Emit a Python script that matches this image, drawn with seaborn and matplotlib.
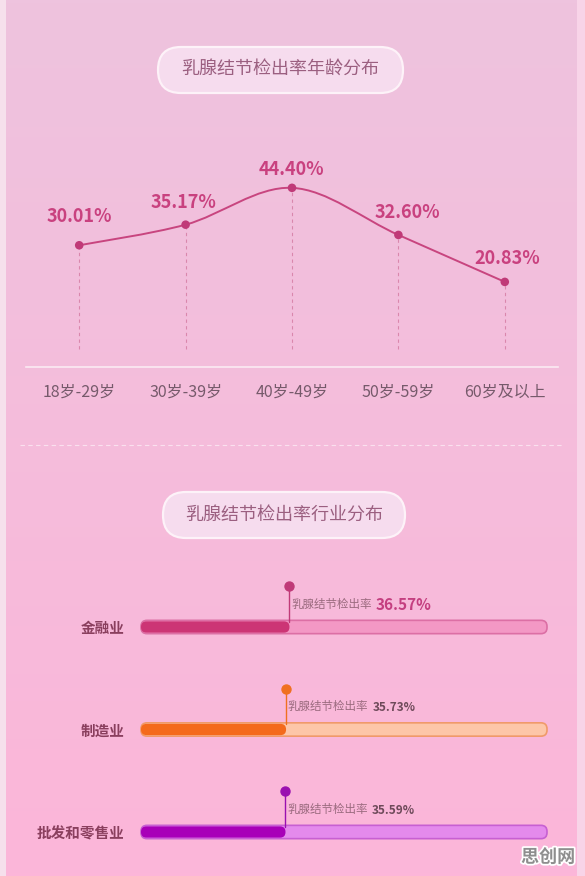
import numpy as np
import pandas as pd
import matplotlib
matplotlib.use("Agg")
import matplotlib.pyplot as plt
import matplotlib.colors as mcolors
import matplotlib.patheffects as pe
from matplotlib.patches import FancyBboxPatch, PathPatch, Rectangle
from matplotlib.path import Path
import seaborn as sns

# ---------------- data ----------------
age_groups = ["18岁-29岁", "30岁-39岁", "40岁-49岁", "50岁-59岁", "60岁及以上"]
age_rates = [30.01, 35.17, 44.40, 32.60, 20.83]
industries = ["金融业", "制造业", "批发和零售业"]
industry_rates = [36.57, 35.73, 35.59]
title_age = "乳腺结节检出率年龄分布"
title_ind = "乳腺结节检出率行业分布"
pin_prefix = "乳腺结节检出率"
watermark = "思创网"

# ---------------- style ----------------
sns.set_theme(style="white")
plt.rcParams['font.family'] = ['Noto Sans CJK SC', 'DejaVu Sans']

W, H = 585, 876
fig = plt.figure(figsize=(W / 100, H / 100), dpi=100)

# background axes in pixel units
bg = fig.add_axes([0, 0, 1, 1])
bg.set_xlim(0, W)
bg.set_ylim(H, 0)
bg.axis('off')
c_top = np.array(mcolors.to_rgb('#eec3de'))
c_bot = np.array(mcolors.to_rgb('#fcb6d9'))
t = np.linspace(0, 1, 256)[:, None, None]
img = c_top + (c_bot - c_top) * t
bg.imshow(img, extent=[0, W, H, 0], aspect='auto', zorder=0)
bg.add_patch(Rectangle((0, 0), 6, H, color='#f6e0ec', zorder=1, lw=0))
bg.add_patch(Rectangle((577, 0), 8, H, color='#f8d4e8', zorder=1, lw=0))

# title pills
for (x0, y0, w, h, txt) in [(158, 47, 245, 46, title_age), (163, 492, 242, 46, title_ind)]:
    bg.add_patch(FancyBboxPatch((x0, y0), w, h, boxstyle="round,pad=0,rounding_size=23",
                                fc='#f6dcee', ec='#fdf2f8', lw=1.6, zorder=2))
    bg.text(x0 + w / 2, y0 + h / 2, txt, ha='center', va='center', fontsize=13,
            color='#9b5f80', zorder=3)

# separator
bg.plot([20, 562], [445, 445], color='white', alpha=0.55, lw=0.8, ls=(0, (4, 3)), zorder=2)

# watermark
bg.text(548, 857, watermark, ha='center', va='center', fontsize=13, fontweight='bold',
        color='#8e8e8e', zorder=5,
        path_effects=[pe.withStroke(linewidth=2.5, foreground='white')])

# ---------------- age line chart ----------------
line_col = '#c8457f'
ax1 = fig.add_axes([26 / W, 1 - 367 / H, 532 / W, 201.5 / H])
ax1.set_facecolor('none')
df_age = pd.DataFrame({'group': age_groups, 'rate': age_rates})

xs = np.arange(len(age_rates), dtype=float)
ys = np.array(age_rates, dtype=float)
n = len(xs)
verts = [(xs[0], ys[0])]
codes = [Path.MOVETO]
for i in range(n - 1):
    p0 = i - 1 if i > 0 else i
    p3 = i + 2 if i + 2 < n else i + 1
    c1 = (xs[i] + (xs[i + 1] - xs[p0]) / 6, ys[i] + (ys[i + 1] - ys[p0]) / 6)
    c2 = (xs[i + 1] - (xs[p3] - xs[i]) / 6, ys[i + 1] - (ys[p3] - ys[i]) / 6)
    verts += [c1, c2, (xs[i + 1], ys[i + 1])]
    codes += [Path.CURVE4] * 3
ax1.add_patch(PathPatch(Path(verts, codes), fc='none', ec=line_col, lw=1.4, zorder=3))

ax1.vlines(xs, 4, ys, colors='#d47aa2', lw=0.8, linestyles=(0, (3, 3)), alpha=0.8, zorder=2)

sns.scatterplot(data=df_age, x='group', y='rate', ax=ax1, color='#c03a78', s=38,
                edgecolor='none', zorder=4, legend=False)

label_offsets = [(0, 21), (-1.5, 16), (-0.7, 13), (6.5, 16.5), (2, 17)]
for xi, v, off in zip(xs, age_rates, label_offsets):
    ax1.annotate(f"{v:.2f}%", (xi, v), xytext=off, textcoords='offset points',
                 ha='center', va='center', fontsize=13, fontweight='bold', color='#c9417f')

ax1.set_xlim(-0.5, 4.5)
ax1.set_ylim(-0.5, 50)
ax1.set_xlabel('')
ax1.set_ylabel('')
ax1.set_yticks([])
ax1.set_xticks(xs)
ax1.set_xticklabels(age_groups)
ax1.set_xticks(np.arange(-0.5, 5, 1.0), minor=True)
ax1.tick_params(axis='x', which='major', length=0, pad=12, labelsize=11.5, labelcolor='#765a6b')
ax1.tick_params(axis='x', which='minor', length=4, width=1, color='#fbeaf3', direction='out')
for s in ['top', 'left', 'right']:
    ax1.spines[s].set_visible(False)
ax1.spines['bottom'].set_color('#fbeaf3')
ax1.spines['bottom'].set_linewidth(1.2)

# ---------------- industry bars ----------------
track_cols = ['#f398c5', '#fdc6a8', '#e48aec']
track_edges = ['#dc6fa5', '#f09a6a', '#c760d2']
fill_cols = ['#cc3575', '#f46a1c', '#a800b8']
pin_cols = ['#c03a78', '#f07020', '#9a10b0']

ax2 = fig.add_axes([141 / W, 1 - 873 / H, 406 / W, 297.25 / H])
ax2.set_facecolor('none')
df_ind = pd.DataFrame({'industry': industries, 'rate': industry_rates,
                       'full': [100.0] * len(industries)})
sns.barplot(data=df_ind, y='industry', x='full', hue='industry', palette=track_cols,
            width=0.13, orient='h', dodge=False, errorbar=None, legend=False,
            saturation=1, ax=ax2)
sns.barplot(data=df_ind, y='industry', x='rate', hue='industry', palette=fill_cols,
            width=0.11, orient='h', dodge=False, errorbar=None, legend=False,
            saturation=1, ax=ax2)
ax2.set_xlim(0, 100)
ax2.set_ylim(2.4, -0.5)

xu = 100 / 406
yu = 2.9 / 297.25
aspect = yu / xu
rects = [p for p in ax2.patches if isinstance(p, Rectangle)]
for k, r in enumerate(rects):
    x0, y0, w, h = r.get_x(), r.get_y(), r.get_width(), r.get_height()
    fc = r.get_facecolor()
    r.remove()
    is_track = k < len(industries)
    rad = min(h / aspect / 2 * 0.98, 6 * xu)
    ec = track_edges[k] if is_track else 'none'
    ax2.add_patch(FancyBboxPatch((x0, y0), w, h,
                                 boxstyle=f"round,pad=0,rounding_size={rad}",
                                 mutation_aspect=aspect, fc=fc, ec=ec,
                                 lw=1.2 if is_track else 0, zorder=2 if is_track else 3,
                                 clip_on=False))

for i, v in enumerate(industry_rates):
    ax2.plot([v, v], [i - 0.05, i - 0.40], color=pin_cols[i], lw=1, zorder=4, clip_on=False)
    ax2.scatter([v], [i - 0.40], s=42, color=pin_cols[i], zorder=5, clip_on=False)
    t1 = ax2.text(v + 0.4, i - 0.22, pin_prefix, ha='left', va='center', fontsize=8.3,
                  color='#9a6a7e', zorder=5)
    if i == 0:
        ax2.annotate(f"{v:.2f}%", xy=(1, 0.45), xycoords=t1, xytext=(3, 0),
                     textcoords='offset points', ha='left', va='center',
                     fontsize=11, fontweight='bold', color='#c43f80')
    else:
        ax2.annotate(f"{v:.2f}%", xy=(1, 0.45), xycoords=t1, xytext=(3, 0),
                     textcoords='offset points', ha='left', va='center',
                     fontsize=8.5, fontweight='bold', color='#6e4a5a')

ax2.set_xlabel('')
ax2.set_ylabel('')
ax2.set_xticks([])
ax2.tick_params(axis='y', length=0, pad=12, labelsize=10.5, labelcolor='#8a3f5e')
for lbl in ax2.get_yticklabels():
    lbl.set_fontweight('bold')
for s in ax2.spines.values():
    s.set_visible(False)

fig.savefig('out.png', dpi=100)
